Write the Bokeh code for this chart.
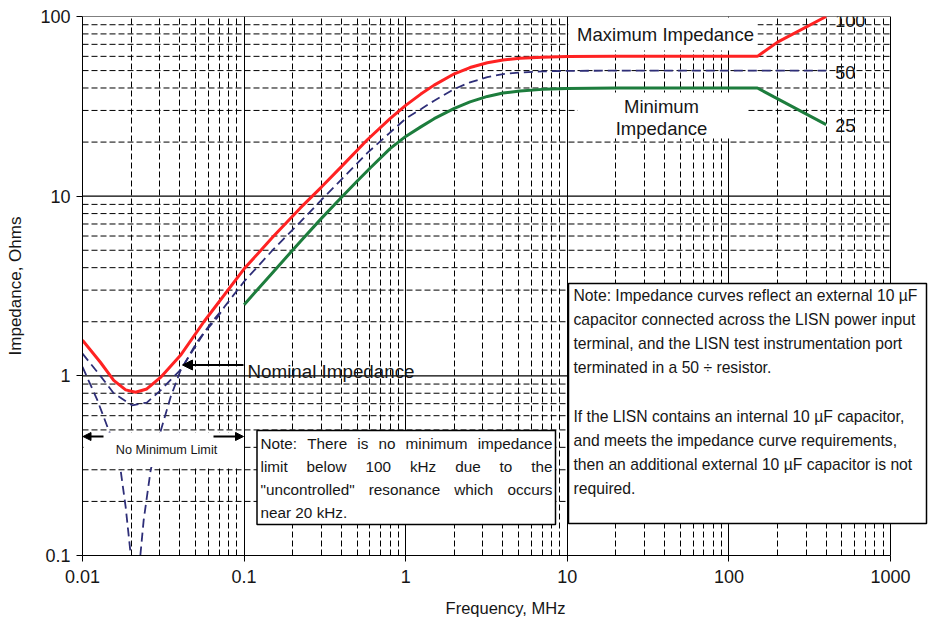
import numpy as np
from bokeh.plotting import figure
from bokeh.models import (FixedTicker, BoxAnnotation, Label, Arrow, NormalHead,
                          CustomJSTickFormatter, Range1d)
from bokeh.embed import file_html
from bokeh.resources import INLINE

# ---- LISN impedance limits: frequency in MHz, impedance in Ohms ----
max_freq = [0.01, 0.0129, 0.0156, 0.0185, 0.0213, 0.025, 0.0304, 0.0404, 0.0564,
            0.1, 0.15, 0.223, 0.3, 0.4, 0.579, 0.8, 1.0, 1.24, 1.5, 2.0, 2.5, 3.2,
            4.0, 5.1, 7.0, 10, 20, 150, 200, 400]
max_ohm = [1.58, 1.19, 0.944, 0.835, 0.81, 0.845, 0.98, 1.3, 2.0,
           3.94, 5.9, 8.6, 11.2, 14.6, 20.6, 27.0, 32.0, 37.0, 41.5, 48.0, 52.0, 55.3,
           57.3, 58.5, 59.4, 59.8, 60, 60, 72, 100]

nom_freq = [0.01, 0.0129, 0.0156, 0.0203, 0.025, 0.0304, 0.0404, 0.0466, 0.0564, 0.068,
            0.075, 0.1, 0.15, 0.223, 0.3, 0.394, 0.579, 0.8, 1.0, 1.24, 1.5, 2.0, 2.5,
            3.2, 4.0, 5.1, 7.0, 10, 20, 400]
nom_ohm = [1.33, 1.0, 0.80, 0.685, 0.71, 0.83, 1.08, 1.32, 1.73, 2.1,
           2.4, 3.35, 5.0, 7.2, 9.5, 12.2, 17.4, 22.6, 27.0, 30.5, 34.0, 39.5, 43.0,
           46.0, 47.8, 48.8, 49.5, 49.8, 50, 50]

min_freq = [0.1, 0.15, 0.223, 0.3, 0.394, 0.5, 0.605, 0.8, 1.0, 1.24, 1.5, 2.0, 2.5,
            3.2, 4.0, 5.1, 7.0, 10, 20, 150, 190, 400]
min_ohm = [2.49, 3.75, 5.6, 7.5, 9.7, 12.1, 14.4, 18.4, 21.5, 24.3, 27.0, 30.8, 33.5,
           35.9, 37.5, 38.5, 39.3, 39.7, 40, 40, 35.7, 25]

# series resonance of the uncontrolled case near 20 kHz (falls below the axis)
res_lo_freq = [0.01, 0.0123, 0.0153, 0.0172, 0.0185, 0.0199]
res_lo_ohm = [1.12, 0.74, 0.44, 0.30, 0.186, 0.1]
res_hi_freq = [0.0228, 0.0239, 0.0264, 0.0297, 0.0351, 0.0404, 0.0513, 0.062, 0.075]
res_hi_ohm = [0.1, 0.157, 0.298, 0.457, 0.762, 1.07, 1.55, 1.95, 2.4]

x_major = [0.01, 0.1, 1, 10, 100, 1000]
y_major = [0.1, 1, 10, 100]
x_minor = [m * 10.0 ** e for e in range(-2, 3) for m in range(2, 10)]
y_minor = [m * 10.0 ** e for e in range(-1, 2) for m in range(2, 10)]

# ---- page layout ----
W, H = 928, 627
LEFT, TOP, BOTTOM = 82, 16, 72
GRID_RIGHT = 890            # pixel column of the 1000 MHz edge
FRAME_H = H - TOP - BOTTOM
DECADE_X = (GRID_RIGHT - LEFT) / (np.log10(x_major[-1]) - np.log10(x_major[0]))
DECADE_Y = FRAME_H / (np.log10(y_major[-1]) - np.log10(y_major[0]))
# the frame runs on to the page edge so the right-hand note can overhang the grid
X_END = 10 ** (np.log10(x_major[-1]) + (W - GRID_RIGHT) / DECADE_X)

FONT = "Liberation Sans"
INK = "#161616"


def at(px, py):
    """Canvas pixel position -> data coordinates on the log/log frame."""
    lx = np.log10(x_major[0]) + (px - LEFT) / DECADE_X
    ly = np.log10(y_major[-1]) - (py - TOP) / DECADE_Y
    return 10 ** lx, 10 ** ly


# Arial / Liberation Sans advance widths (per 1000 em) for justified text
ADV = {" ": 278, '"': 355, ".": 278, ":": 278, "H": 722, "N": 722, "T": 611,
       "a": 556, "b": 556, "c": 500, "d": 556, "e": 556, "h": 556, "i": 222,
       "k": 500, "l": 222, "m": 833, "n": 556, "o": 556, "p": 556, "r": 333,
       "s": 500, "t": 278, "u": 556, "w": 722, "z": 500, "y": 500}


def text_width(s, size):
    return sum(ADV.get(c, 556) for c in s) * size / 1000.0


def justify(line, width, size):
    words = line.split()
    if len(words) < 2:
        return [(line, 0.0)]
    total = sum(text_width(w, size) for w in words)
    gap = (width - total) / (len(words) - 1)
    out, x = [], 0.0
    for w in words:
        out.append((w, x))
        x += text_width(w, size) + gap
    return out


p = figure(width=W, height=H, x_axis_type="log", y_axis_type="log",
           x_range=Range1d(x_major[0], X_END),
           y_range=Range1d(y_major[0], y_major[-1]),
           output_backend="svg", toolbar_location=None,
           min_border_left=LEFT, min_border_right=0,
           min_border_top=TOP, min_border_bottom=BOTTOM,
           background_fill_color="white", border_fill_color="white")
p.outline_line_color = None

x_ticker = FixedTicker(ticks=x_major, minor_ticks=x_minor)
y_ticker = FixedTicker(ticks=y_major, minor_ticks=y_minor)
p.xaxis.ticker = x_ticker
p.yaxis.ticker = y_ticker
p.xaxis.bounds = (x_major[0], x_major[-1])

# vertical grid from the axis ticker; horizontal grid drawn up to 1000 MHz only
p.xgrid.ticker = x_ticker
p.xgrid.grid_line_color = "black"
p.xgrid.grid_line_width = 1
p.xgrid.minor_grid_line_color = "black"
p.xgrid.minor_grid_line_width = 1
p.xgrid.minor_grid_line_dash = "6 3"
p.ygrid.visible = False

p.segment(x0=[x_major[0]] * len(y_minor), x1=[x_major[-1]] * len(y_minor),
          y0=y_minor, y1=y_minor, line_color="black", line_width=1,
          line_dash="6 3", level="underlay")
p.segment(x0=[x_major[0]] * len(y_major), x1=[x_major[-1]] * len(y_major),
          y0=y_major, y1=y_major, line_color="black", line_width=1.2,
          level="underlay")

fmt = CustomJSTickFormatter(code="return String(tick);")
for ax in (p.xaxis[0], p.yaxis[0]):
    ax.formatter = fmt
    ax.axis_line_color = "black"
    ax.major_tick_line_color = "black"
    ax.major_tick_out = 6
    ax.major_tick_in = 0
    ax.minor_tick_out = 0
    ax.minor_tick_in = 0
    ax.major_label_text_font = FONT
    ax.major_label_text_font_size = "18px"
    ax.major_label_text_color = INK
    ax.axis_label_text_font = FONT
    ax.axis_label_text_font_style = "normal"
    ax.axis_label_text_color = INK

p.xaxis.axis_label = "Frequency, MHz"
p.xaxis.axis_label_text_font_size = "16.5px"
p.xaxis.major_label_standoff = 8
p.xaxis.axis_label_standoff = 13
p.yaxis.axis_label = "Impedance, Ohms"
p.yaxis.axis_label_text_font_size = "17px"
p.yaxis.major_label_standoff = 6
p.yaxis.axis_label_standoff = 12

# ---- curves ----
NAVY = "#2e2e78"
p.line(res_lo_freq, res_lo_ohm, line_color=NAVY, line_width=1.8, line_dash="9 5")
p.line(res_hi_freq, res_hi_ohm, line_color=NAVY, line_width=1.8, line_dash="9 5")
p.line(nom_freq, nom_ohm, line_color=NAVY, line_width=1.8, line_dash="9 5")
p.line(min_freq, min_ohm, line_color="#1d7d3d", line_width=3)
p.line(max_freq, max_ohm, line_color="#ff2222", line_width=3)


def label(text, x, y, size, align="center", **kw):
    p.add_layout(Label(x=x, y=y, text=text, text_font=FONT,
                       text_font_size=size, text_color=INK, text_align=align,
                       text_baseline="middle", level="overlay", **kw))


# curve end values
for f, z, dy in ((max_freq[-1], max_ohm[-1], -4), (nom_freq[-1], nom_ohm[-1], -2),
                 (min_freq[-1], min_ohm[-1], -1)):
    label(f"{z:g}", f, z, "18px", align="left", x_offset=9, y_offset=dy)


# ---- captions on white patches ----
def white_box(x0, y0, x1, y1, border=None, width=1.5):
    (l, t), (r, b) = at(x0, y0), at(x1, y1)
    p.add_layout(BoxAnnotation(left=l, right=r, top=t, bottom=b,
                               fill_color="white", fill_alpha=1.0,
                               line_color=border if border else "white",
                               line_width=width, line_alpha=1.0 if border else 0.0,
                               level="overlay"))


def caption(text, px, py, size, align="center", **kw):
    x, y = at(px, py)
    label(text, x, y, size, align=align, **kw)


def arrow(px0, px1, py, size, width):
    (xs, ys), (xe, ye) = at(px0, py), at(px1, py)
    p.add_layout(Arrow(end=NormalHead(size=size, fill_color="black", line_color="black"),
                       x_start=xs, y_start=ys, x_end=xe, y_end=ye,
                       line_color="black", line_width=width, level="overlay"))


white_box(568, 17, 757, 50)
caption("Maximum Impedance", 665, 34, "18.5px")
white_box(577, 92, 747, 138)
caption("Minimum", 661, 106, "18.5px")
caption("Impedance", 661, 128, "18.5px")

# nominal curve pointer
caption("Nominal Impedance", 247, 371, "18.8px", align="left")
arrow(243, 182, 364.5, 10, 2.2)

# region without a lower limit
white_box(83, 432, 242, 466.5)
caption("No Minimum Limit", 166, 449, "12.7px")
arrow(103, 82.5, 436, 8, 2)
arrow(213, 243, 436, 8, 2)

# ---- note on the resonance (justified) ----
white_box(256.5, 430, 555, 524, border="black", width=1.5)
NOTE1 = ["Note:  There is no minimum impedance",
         "limit below 100 kHz due to the",
         "\"uncontrolled\" resonance which occurs",
         "near 20 kHz."]
N1_SIZE = 15.3
for i, line in enumerate(NOTE1):
    last = i == len(NOTE1) - 1
    words = [(line, 0.0)] if last else justify(line, 292, N1_SIZE)
    for w, dx in words:
        caption(w, 260 + dx, 443 + 23 * i, f"{N1_SIZE}px", align="left")

# ---- note on the external capacitor ----
white_box(568, 283, 926, 523, border="black", width=1.5)
NOTE2 = ["Note:  Impedance curves reflect an external 10 \u00b5F",
         "capacitor connected across the LISN power input",
         "terminal, and the LISN test instrumentation port",
         "terminated in a 50 \u00f7  resistor.",
         "",
         "If the LISN contains an internal 10 \u00b5F capacitor,",
         "and meets the impedance curve requirements,",
         "then an additional external 10 \u00b5F capacitor is not",
         "required."]
for i, line in enumerate(NOTE2):
    if line:
        caption(line, 573, 295 + 24.1 * i, "15.7px", align="left")

open("out.html", "w").write(file_html(p, INLINE))
